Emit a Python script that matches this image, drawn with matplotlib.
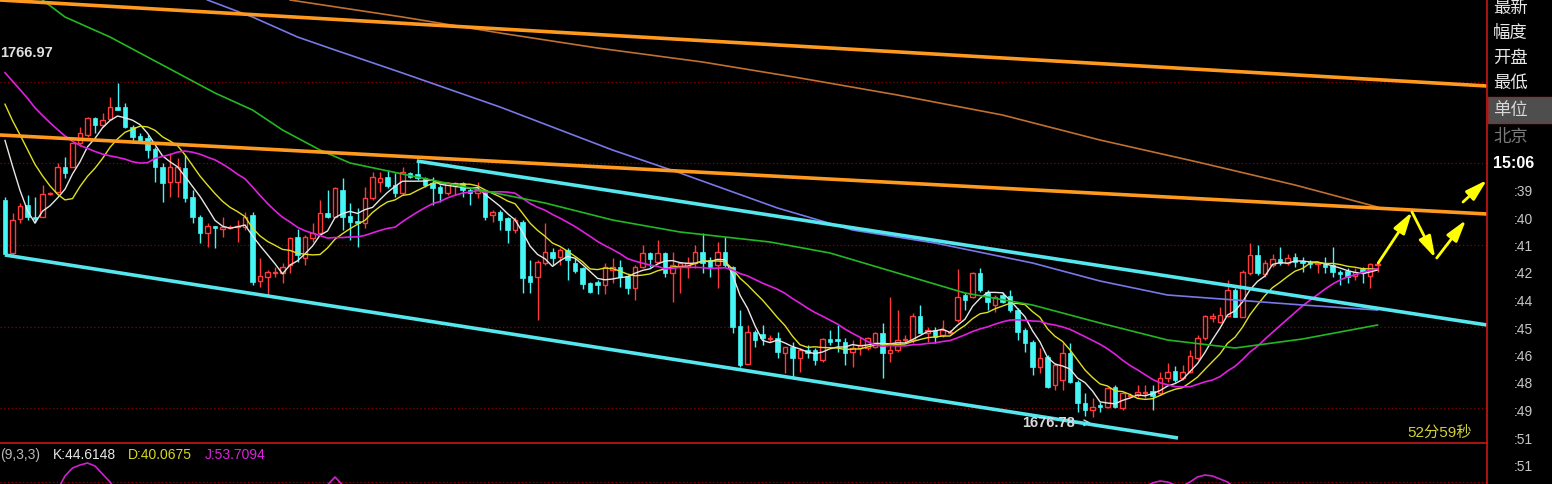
import numpy as np
import pandas as pd
import matplotlib.pyplot as plt
from matplotlib.patches import Rectangle
from matplotlib.lines import Line2D

plt.rcParams['font.family'] = ['Liberation Sans', 'Noto Sans CJK SC', 'DejaVu Sans']

# --- świece ---
opens = [
    1731, 1717.75, 1726.25, 1729.75, 1726.75, 1726.75, 1732.5, 1733, 1739.25, 1739.25,
    1745.25, 1747.25, 1751.5, 1749.75, 1751.25, 1754.25, 1754.25, 1749.25, 1747, 1746.5,
    1743.75, 1739.25, 1735.5, 1735.5, 1739, 1731.75, 1726.75, 1722.75, 1724.5, 1723.75,
    1724, 1724.25, 1724.25, 1727.25, 1710.75, 1711.75, 1712.75, 1712.75, 1714.75, 1721.75,
    1716.5, 1721.5, 1722.75, 1727.75, 1726.75, 1733.5, 1727, 1725.75, 1725.25, 1731.5,
    1735.5, 1736.75, 1734.75, 1732.75, 1737.75, 1737.5, 1736.5, 1735.25, 1734.25, 1732.75,
    1734.5, 1735.25, 1733.5, 1732.75, 1732.75, 1727.25, 1728, 1726.5, 1723.5, 1725.5,
    1712, 1711.75, 1715.25, 1718, 1716.75, 1718.5, 1715.25, 1714, 1710.25, 1710.5,
    1709.75, 1713.5, 1714.25, 1712, 1709, 1714.25, 1717.75, 1715.5, 1717.75, 1712.75,
    1714.25, 1714.25, 1715.25, 1718, 1716, 1714.75, 1718, 1714.25, 1699.5, 1690,
    1698, 1697.5, 1696.25, 1696.5, 1692.75, 1694.25, 1691.5, 1693.5, 1693.5, 1691,
    1696.25, 1696.25, 1695.5, 1693, 1694, 1694, 1694.25, 1697.75, 1692.75, 1693.5,
    1696, 1696, 1702, 1697.75, 1698.5, 1697.25, 1697.75, 1701, 1707.25, 1706.75,
    1712.75, 1708, 1704.75, 1707.25, 1707, 1703.5, 1698.5, 1695.5, 1689.25, 1691.75,
    1684.75, 1686, 1692.75, 1685.5, 1680.25, 1678.5, 1679.75, 1679.25, 1684.25, 1679,
    1682, 1682.25, 1682.75, 1683.25, 1682.75, 1686.5, 1688.25, 1686.5, 1688, 1691.5,
    1696.5, 1701.5, 1700.5, 1702, 1708.5, 1701.75, 1712.75, 1717.25, 1712.5, 1714.75,
    1716.25, 1715.25, 1716.75, 1715.75, 1715.5, 1715, 1715.25, 1714.75, 1713, 1713.25,
    1712, 1713.75, 1712, 1714.75,
]
highs = [
    1731.75, 1727.75, 1730.25, 1732.25, 1731.75, 1734.75, 1733, 1740.25, 1741.75, 1745.5,
    1749.25, 1751.75, 1751.75, 1752.75, 1756.75, 1760.25, 1755.25, 1749.75, 1747.75, 1747.25,
    1744.25, 1740.25, 1742.75, 1741.5, 1742.25, 1733.5, 1727.25, 1725.25, 1724.5, 1726.75,
    1724.75, 1726, 1728, 1728, 1716.5, 1713.5, 1714.25, 1715.25, 1721.75, 1723.75,
    1722.25, 1725.25, 1731, 1733.5, 1734.25, 1736.5, 1730.25, 1729, 1734.25, 1738,
    1738, 1738.5, 1737.75, 1739.25, 1738, 1740.5, 1736.75, 1736.75, 1734.75, 1735.5,
    1735.5, 1735.5, 1734.25, 1735.5, 1733.5, 1728.5, 1728.5, 1726.75, 1726.75, 1726,
    1716, 1716, 1725.25, 1719, 1719, 1719, 1716.5, 1714.25, 1710.5, 1711,
    1715.25, 1716.5, 1716, 1712.25, 1714.75, 1719.75, 1718, 1721, 1718, 1718,
    1715.5, 1716.75, 1719.75, 1722.75, 1716.75, 1720.5, 1721.75, 1714.5, 1703.5, 1699.75,
    1698.5, 1699.75, 1697.25, 1698, 1694.25, 1695.5, 1694, 1694.75, 1694, 1696.5,
    1698.5, 1699.75, 1696.5, 1696, 1696.75, 1696.75, 1698, 1700.25, 1706.75, 1703.5,
    1697.25, 1702.75, 1704.75, 1699.25, 1699.25, 1701, 1698.5, 1713.75, 1707.75, 1713,
    1714, 1708.5, 1707.25, 1708, 1708.5, 1704, 1699, 1696, 1694, 1692.25,
    1690.25, 1695.25, 1695.25, 1686, 1682.75, 1681.5, 1680.5, 1684.25, 1684.75, 1683,
    1682.75, 1684.75, 1684.75, 1684.75, 1688, 1690.25, 1689.5, 1689.75, 1693.5, 1697.25,
    1702.25, 1702.75, 1704.25, 1711, 1709, 1713.5, 1720.25, 1719.75, 1716, 1717.5,
    1719.25, 1717.5, 1717.75, 1716.75, 1716, 1715.5, 1716.75, 1719.25, 1713.5, 1714,
    1714, 1714.25, 1715.25, 1715.5,
]
lows = [
    1717, 1717.25, 1725.25, 1726, 1725.5, 1726.75, 1732.25, 1732.75, 1736.5, 1739.25,
    1744.5, 1746.75, 1747.75, 1749.25, 1751, 1753.5, 1749, 1745.25, 1745.25, 1741.5,
    1735.5, 1730.5, 1731.75, 1731.75, 1730.5, 1725.25, 1720.25, 1719.25, 1719, 1721.75,
    1723.75, 1720.5, 1723.5, 1709.75, 1709.25, 1706.75, 1711.75, 1710.25, 1712.75, 1715.5,
    1714.75, 1720.5, 1722.25, 1726.5, 1726.75, 1723.5, 1721, 1719.25, 1724, 1731,
    1733, 1734, 1731.75, 1732.25, 1736.5, 1736, 1734.25, 1729.75, 1730.5, 1732.25,
    1732.25, 1731.75, 1729.75, 1731.5, 1726, 1725.5, 1723.5, 1720.25, 1722.75, 1707.75,
    1707.75, 1701, 1714.75, 1714.75, 1714.75, 1711, 1712.75, 1708.75, 1707.75, 1707.5,
    1707.5, 1710.25, 1709.25, 1707.5, 1706, 1714, 1714.25, 1715.25, 1711.75, 1705.5,
    1707.75, 1711.5, 1714, 1712.75, 1711.75, 1709, 1714.25, 1697.75, 1689.25, 1690,
    1694.25, 1694.75, 1695.5, 1691.5, 1687.75, 1686.75, 1688, 1691.5, 1689.75, 1690.5,
    1694.75, 1693, 1689.75, 1689.25, 1692.25, 1693.5, 1694, 1686.5, 1690.5, 1693,
    1695.5, 1695.25, 1697.75, 1695.5, 1695.25, 1696.75, 1697.5, 1700.5, 1703.5, 1706.5,
    1708, 1703.5, 1703, 1705.25, 1703, 1696, 1693, 1687.25, 1687.75, 1684,
    1683.5, 1683.5, 1685.25, 1678, 1677, 1676.78, 1678, 1679, 1679, 1678.5,
    1681.75, 1681.75, 1681.5, 1678.5, 1682.25, 1685.5, 1685.5, 1686, 1687.75, 1691,
    1696, 1700.5, 1700.25, 1701.75, 1701.75, 1701.75, 1712.25, 1712.25, 1711.75, 1714.25,
    1714.75, 1714.75, 1714.25, 1713, 1714, 1712.75, 1712.75, 1711.75, 1709.75, 1710.25,
    1711, 1710.25, 1709, 1713,
]
closes = [
    1717.5, 1726, 1729.5, 1726.75, 1726.25, 1732.5, 1732.75, 1739.25, 1737.75, 1745.25,
    1747.75, 1751.5, 1749.75, 1751, 1754.25, 1753.5, 1749.25, 1746.75, 1745.5, 1743.5,
    1739.25, 1735.25, 1739.25, 1739.25, 1731.5, 1726.75, 1722.75, 1724.5, 1724, 1724.25,
    1724.25, 1724.5, 1726.75, 1710.5, 1712, 1713, 1713, 1714.25, 1721.5, 1717.25,
    1721.75, 1722.75, 1727.75, 1726.75, 1734, 1726.75, 1725.5, 1725.25, 1731.5, 1736.75,
    1736.5, 1734.5, 1732.75, 1738, 1736.75, 1736.5, 1734.75, 1734, 1732.75, 1735.25,
    1735.25, 1733.5, 1732.75, 1733.75, 1726.75, 1728, 1726, 1723.5, 1726, 1711.5,
    1710.5, 1715.5, 1718, 1716.5, 1718.5, 1716, 1713.25, 1710, 1708, 1709.75,
    1714.25, 1714.25, 1711.75, 1709, 1714.25, 1717.75, 1716.25, 1717.75, 1712.75, 1714.75,
    1715.25, 1715.25, 1718, 1715.25, 1714.25, 1718, 1714.75, 1699.25, 1689.75, 1698,
    1696, 1696.5, 1696.5, 1693, 1694.25, 1691.5, 1693.5, 1692.75, 1691, 1696.25,
    1695.5, 1695.75, 1692.75, 1694, 1694.75, 1696.5, 1697.75, 1692.75, 1693.5, 1696,
    1696.25, 1702, 1697.75, 1698.5, 1696.75, 1698.5, 1698, 1706.75, 1706, 1712.75,
    1708.5, 1705.5, 1706.75, 1705.5, 1703.5, 1698, 1695.25, 1689.25, 1691.5, 1684.25,
    1689.75, 1692.75, 1685.5, 1680.25, 1678.5, 1679.25, 1679.25, 1684, 1679.25, 1682.75,
    1682.25, 1683, 1683, 1682, 1686.5, 1688, 1686, 1688, 1692, 1696.5,
    1702, 1702, 1702.25, 1708.5, 1701.75, 1713, 1717.25, 1712.75, 1715.25, 1716.25,
    1715.25, 1716.5, 1715.5, 1715.25, 1715, 1715.25, 1714.25, 1713, 1712.5, 1711.75,
    1713, 1712.75, 1715, 1715,
]

# zamknięcia sprzed widocznego okna (szacowane z położenia średnich przy lewej krawędzi)
prev_closes = [1768, 1772, 1770, 1774, 1771, 1769, 1773, 1770, 1772, 1768,
               1767, 1765, 1764, 1763, 1761, 1758, 1760, 1752, 1742]

# długie średnie odczytane punktowo (indeks świecy, cena)
ma60_idx = [5, 8, 14, 19, 24, 28, 33, 37, 42, 46, 53, 62, 72, 81, 90, 102, 110, 119, 128, 137, 146, 155, 164, 173, 183]
ma60_val = [1781, 1776.75, 1771.75, 1766.75, 1761.75, 1757.75, 1753.5, 1748.5, 1743.5, 1740.25, 1737.5, 1734,
            1730.25, 1726, 1723, 1720.5, 1717.75, 1712.75, 1707.75, 1704.75, 1700.25, 1696, 1694, 1696.25, 1699.75]
ma120_idx = [27, 33, 39, 44, 53, 66, 81, 90, 103, 113, 124, 137, 146, 155, 164, 173, 183]
ma120_val = [1781, 1776.75, 1771.75, 1768.5, 1762.75, 1754.25, 1743.5, 1737.75, 1729, 1723.5, 1720.25,
             1715.25, 1710.75, 1707.25, 1706, 1704.75, 1703.5]
ma250_idx = [38, 53, 66, 79, 93, 106, 119, 133, 146, 159, 172, 183]
ma250_val = [1781, 1776.75, 1772.75, 1769, 1765.5, 1761.5, 1757.25, 1752.25, 1746, 1740.5, 1734.75, 1729.25]

# linie trendu (początek/koniec: indeks, cena)
orange_hi = [(-0.67, 1781.0), (197.6, 1759.5)]
orange_lo = [(-0.67, 1747.25), (197.6, 1727.5)]
cyan_lo = [(0.0, 1717.25), (156.4, 1671.5)]
cyan_hi = [(54.9, 1740.75), (197.6, 1699.75)]

# żółte strzałki prognozy
arrows = [((183.1, 1715.25), (187.6, 1728.0)),
          ((187.6, 1728.0), (190.7, 1716.5)),
          ((190.9, 1716.5), (194.8, 1726.0)),
          ((194.4, 1730.5), (197.6, 1736.0))]

grid_prices = [1760.5, 1740.25, 1719.75, 1699.25, 1679.0]

# KDJ – widoczne tylko wierzchołki linii J
j_idx = [7, 8, 9, 10, 11, 12, 13, 14, 15, None, 43, 44, 45, None,
         152, 153, 154, 155, 156, None, 157, 158, 159, 160, 161, 162, 163, 164]
j_val = [92, 106, 114, 117, 119, 116, 108, 100, 90, None, 97, 105, 97, None,
         95, 99, 101, 100, 97, None, 96, 100, 105, 107, 106, 103, 100, 94]

side_labels = ['最新', '幅度', '开盘', '最低']
tick_times = [':39', ':40', ':41', ':42', ':44', ':45', ':46', ':48', ':49', ':51', ':51']

# --- obliczenia średnich ---
n = len(closes)
idx = np.arange(n)
s = pd.Series(prev_closes + closes)
ma5 = s.rolling(5).mean().values[-n:]
ma10 = s.rolling(10).mean().values[-n:]
ma20 = s.rolling(20).mean().values[-n:]

W, H = 1552, 484
RED = '#ff3a3a'
CYAN = '#45f6f6'

fig = plt.figure(figsize=(W / 100, H / 100), dpi=100, facecolor='black')
ax = fig.add_axes([0, (H - 443) / H, 1487 / W, 443 / H])
ax.set_facecolor('black')
ax.set_xlim(-0.667, 197.6)
ax.set_ylim(1670.25, 1781)
ax.axis('off')

ax.hlines(grid_prices, -0.667, 197.6, colors='#8a0000', linestyles=(0, (1, 2)), lw=0.9, zorder=1)

# świece
bw = 0.66
for i in range(n):
    o, h, l, c = opens[i], highs[i], lows[i], closes[i]
    if c >= o:
        ax.vlines(i, c, h, colors=RED, lw=1, zorder=2)
        ax.vlines(i, l, o, colors=RED, lw=1, zorder=2)
        ax.add_patch(Rectangle((i - bw / 2, o), bw, c - o, facecolor='black',
                               edgecolor=RED, lw=1, zorder=2))
    else:
        ax.vlines(i, l, h, colors=CYAN, lw=1, zorder=2)
        ax.add_patch(Rectangle((i - bw / 2, c), bw, o - c, facecolor=CYAN,
                               edgecolor=CYAN, lw=0.5, zorder=2))

# średnie
ax.plot(idx, ma5, color='#e6e6e6', lw=1, zorder=3)
ax.plot(idx, ma10, color='#e0e020', lw=1, zorder=3)
ax.plot(idx, ma20, color='#e020e0', lw=1.2, zorder=3)
ax.plot(ma60_idx, ma60_val, color='#22b822', lw=1.2, zorder=3)
ax.plot(ma120_idx, ma120_val, color='#7878e8', lw=1.2, zorder=3)
ax.plot(ma250_idx, ma250_val, color='#c07030', lw=1.2, zorder=3)

# linie trendu
for line, col in [(orange_hi, '#ff9a1e'), (orange_lo, '#ff9a1e'),
                  (cyan_lo, '#55e6ee'), (cyan_hi, '#55e6ee')]:
    ax.plot([line[0][0], line[1][0]], [line[0][1], line[1][1]], color=col, lw=2.6, zorder=4,
            solid_capstyle='butt')

for start, end in arrows:
    ax.annotate('', xy=end, xytext=start, annotation_clip=False,
                arrowprops=dict(arrowstyle='-|>,head_length=1.3,head_width=0.38',
                                color='#ffff00', lw=2, shrinkA=0, shrinkB=0), zorder=5)

# etykiety max/min
ax.text(-0.6, 1767.75, '1766.97', color='#e0e0e0', fontsize=10.5, fontweight='bold',
        ha='left', va='center', zorder=6)
ax.text(142.6, 1675.3, '1676.78', color='#d8d8d8', fontsize=10.5, fontweight='bold',
        ha='right', va='center', zorder=6)
ax.annotate('', xy=(144.8, 1675.3), xytext=(142.7, 1675.3),
            arrowprops=dict(arrowstyle='->', color='#d8d8d8', lw=1, shrinkA=0, shrinkB=0))
ax.text(1472 / 7.5 - 0.67, 1672.9, '52分59秒', color='#d2d23a', fontsize=11,
        ha='right', va='center', zorder=6)

# dolny panel KDJ
ax2 = fig.add_axes([0, 0, 1487 / W, 41 / H])
ax2.set_facecolor('black')
ax2.set_xlim(-0.667, 197.6)
ax2.set_ylim(98, 139)
ax2.axis('off')
ax2.axhline(100, color='#8a0000', ls=(0, (1, 2)), lw=0.9)
jx = [np.nan if v is None else v for v in j_idx]
jy = [np.nan if v is None else v for v in j_val]
ax2.plot(jx, jy, color='#d020d0', lw=1.2)

ty = 1 - 455 / H
fig.text(0 / W, ty, '(9,3,3)', color='#b8b8b8', fontsize=10, va='center')
fig.text(53 / W, ty, 'K:44.6148', color='#e8e8e8', fontsize=10, va='center')
fig.text(128 / W, ty, 'D:40.0675', color='#d8d820', fontsize=10, va='center')
fig.text(205 / W, ty, 'J:53.7094', color='#e020e0', fontsize=10, va='center')

# ramki
fig.add_artist(Line2D([0, 1487 / W], [41 / H, 41 / H], color='#c81818', lw=1.2))
fig.add_artist(Line2D([1487 / W, 1487 / W], [0, 1], color='#c81818', lw=1.2))

# prawy panel
for k, lab in enumerate(side_labels):
    fig.text(1493 / W, 1 - (8 + 25 * k) / H, lab, color='#e8e8e8', fontsize=12.5, va='center')
fig.add_artist(Rectangle((1488 / W, 1 - 123 / H), 64 / W, 26 / H, transform=fig.transFigure,
                         facecolor='#4e4e4e', edgecolor='#8a3030', lw=1))
fig.text(1493 / W, 1 - 110 / H, '单位', color='#d8d8d8', fontsize=12.5, va='center')
fig.text(1493 / W, 1 - 137 / H, '北京', color='#7a7a7a', fontsize=12.5, va='center')
fig.text(1493 / W, 1 - 164 / H, '15:06', color='white', fontsize=11.5, fontweight='bold', va='center')
for k, t in enumerate(tick_times):
    fig.text(1514 / W, 1 - (192 + 27.5 * k) / H, t, color='#c8c8c8', fontsize=10, va='center')

plt.savefig('out.png', dpi=100, facecolor='black')
